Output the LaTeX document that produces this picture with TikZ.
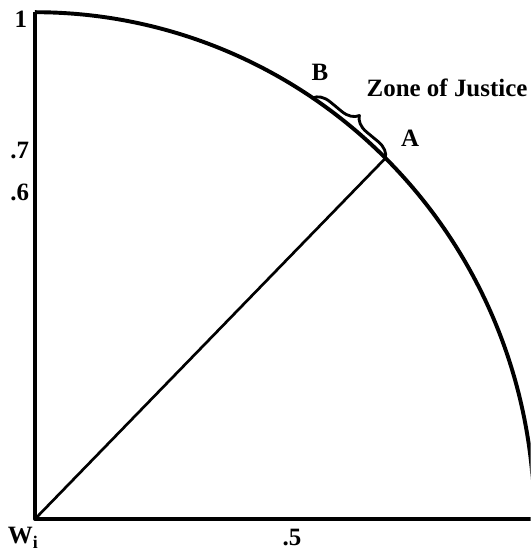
\documentclass[tikz,border=0pt]{standalone}
\usepackage{fontspec}
\setmainfont{Liberation Serif}
\usetikzlibrary{calc}
\usetikzlibrary{decorations.pathreplacing}

\begin{document}
\begin{tikzpicture}[scale=10, line join=round]
    \tikzset{tick text/.style={font=\fontsize{14}{16}\selectfont\bfseries, inner sep=0pt}}

    % fix the frame
    \useasboundingbox (-0.069,-0.067) rectangle (0.978,1.024);
    \clip (-0.069,-0.067) rectangle (0.978,1.024);

    % draw the axes
    \coordinate (W) at (0,0);
    \coordinate (top) at (0,1);
    \coordinate (right) at (1.2,0);
    \draw[line width=2.2pt] (top) -- (W) -- (right);

    % draw the frontier
    \draw[line width=2.2pt] (top) arc [start angle=90, end angle=-5, x radius=0.985, y radius=1];

    % points on the frontier
    \coordinate (A) at (45.4:0.985 and 1);
    \coordinate (B) at (56.2:0.985 and 1);

    % the line to A
    \draw[line width=1.5pt] (W) -- (A);

    % the zone between B and A
    \draw[line width=1.6pt, decorate, decoration={brace, amplitude=3.2mm}] (B) -- (A);

    % add text
    \node[tick text] (one) at (-0.028,0.986) {1};
    \node[tick text] (seven) at (-0.030,0.728) {.7};
    \node[tick text] (six) at (-0.030,0.645) {.6};
    \node[tick text] (half) at (0.507,-0.036) {.5};
    \node[tick text] (Wi) at (-0.024,-0.037) {W\raisebox{-0.4ex}{\fontsize{10}{12}\selectfont i}};
    \node[tick text] (Blabel) at (0.562,0.882) {B};
    \node[tick text] (Alabel) at (0.740,0.751) {A};
    \node[tick text] (zone) at (0.813,0.850) {Zone of Justice};

\end{tikzpicture}
\end{document}
